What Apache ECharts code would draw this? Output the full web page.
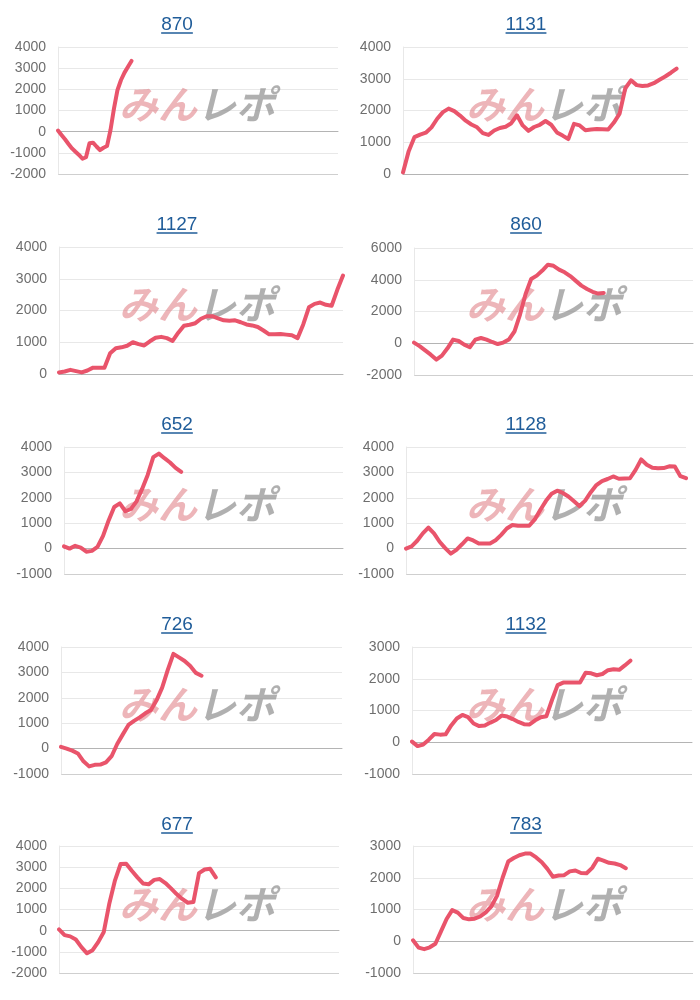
<!DOCTYPE html>
<html><head><meta charset="utf-8">
<script src="https://cdn.jsdelivr.net/npm/echarts@6/dist/echarts.min.js"></script>
<style>html,body{margin:0;padding:0;background:#fff}#c{width:700px;height:1000px}</style>
</head><body><div id="c"></div>
<script>
// ---- data ----
const titles = ['870','1131','1127','860','652','1128','726','1132','677','783'];
const slotCounts = [81, 51, 51, 51, 51, 51, 51, 51, 51, 51];
const yMins = [-2000, 0, 0, -2000, -1000, -1000, -1000, -1000, -2000, -1000];
const yMaxs = [4000, 4000, 4000, 6000, 4000, 4000, 4000, 3000, 4000, 3000];
const yIntervals = [1000, 1000, 1000, 2000, 1000, 1000, 1000, 1000, 1000, 1000];

const v870 = [50,-160,-360,-580,-790,-950,-1100,-1280,-1210,-550,-520,-700,-870,-760,-680,80,1100,1970,2440,2790,3070,3340];
const v1131 = [50,720,1160,1240,1300,1470,1740,1950,2060,1980,1840,1680,1560,1470,1290,1230,1370,1450,1490,1600,1850,1530,1360,1480,1550,1670,1550,1310,1210,1100,1580,1530,1380,1400,1420,1410,1400,1620,1900,2700,2950,2800,2770,2790,2860,2970,3070,3190,3320];
const v1127 = [50,80,130,90,50,110,200,200,200,650,810,840,890,1000,940,900,1030,1140,1170,1130,1040,1300,1520,1550,1600,1740,1820,1820,1750,1690,1680,1690,1630,1560,1530,1480,1370,1250,1250,1260,1240,1220,1130,1560,2100,2210,2250,2180,2150,2650,3100];
const v860 = [40,-180,-450,-720,-1030,-780,-320,230,140,-90,-250,230,330,230,80,-50,40,230,740,1810,3100,4050,4260,4580,4950,4880,4640,4470,4230,3930,3630,3420,3240,3130,3170];
const v652 = [90,0,110,40,-120,-90,70,500,1110,1640,1780,1470,1560,1860,2350,2900,3600,3740,3560,3390,3180,3020];
const v1128 = [0,90,310,600,830,600,270,20,-200,-50,170,400,320,200,200,200,330,540,790,930,900,900,900,1150,1530,1880,2160,2280,2190,2050,1860,1670,1890,2220,2500,2660,2740,2840,2750,2760,2770,3100,3510,3300,3180,3160,3170,3240,3230,2850,2770];
const v726 = [70,0,-80,-190,-500,-700,-640,-630,-540,-300,180,560,930,1090,1230,1390,1520,1900,2400,3100,3730,3590,3450,3250,2980,2870];
const v1132 = [20,-120,-70,80,260,240,250,530,750,860,790,590,510,530,620,700,840,810,730,640,570,560,690,790,820,1330,1800,1880,1880,1880,1880,2190,2170,2110,2150,2270,2300,2280,2420,2570];
const v677 = [60,-210,-270,-420,-780,-1070,-920,-540,-60,1300,2380,3150,3160,2830,2520,2230,2190,2400,2440,2250,2000,1730,1500,1320,1350,2720,2890,2920,2520];
const v783 = [30,-200,-250,-190,-80,310,700,980,900,730,690,710,780,910,1100,1430,2000,2510,2620,2710,2760,2760,2640,2490,2280,2030,2070,2080,2200,2230,2150,2140,2310,2600,2540,2470,2450,2400,2300];

const seriesValues = [v870, v1131, v1127, v860, v652, v1128, v726, v1132, v677, v783];

// ---- layout (pixels) ----
const gridBoxes = [
  {left: 58,  top: 47,  right: 338},
  {left: 403, top: 47,  right: 688},
  {left: 59,  top: 247, right: 343},
  {left: 414, top: 248, right: 693},
  {left: 64,  top: 447, right: 343},
  {left: 406, top: 447, right: 686},
  {left: 61,  top: 647, right: 342},
  {left: 412, top: 647, right: 692},
  {left: 59,  top: 846, right: 339},
  {left: 413, top: 846, right: 693}
];
const GRID_H = 127;
const FONT = '"Liberation Sans", Arial, sans-serif';
const LINE_COLOR = '#e9546b';
const TITLE_COLOR = '#1f5c99';
const TITLE_SIZE = 19;

const chart = echarts.init(document.getElementById('c'), null, {renderer: 'canvas'});

const measure = document.createElement('canvas').getContext('2d');
measure.font = TITLE_SIZE + 'px "Liberation Sans"';

const grid = [], xAxis = [], yAxis = [], series = [], graphic = [];
titles.forEach((t, i) => {
  const col = i % 2, row = Math.floor(i / 2);
  const panelX = col * 350, panelY = row * 200;
  const cx = panelX + (col === 0 ? 177 : 176);
  const g = gridBoxes[i];
  grid.push({left: g.left, top: g.top, width: g.right - g.left, height: GRID_H, containLabel: false});
  const cats = [];
  for (let k = 0; k < slotCounts[i]; k++) cats.push(String(k + 1));
  xAxis.push({
    type: 'category', gridIndex: i, data: cats, boundaryGap: false,
    axisLine: {show: true, onZero: true, lineStyle: {color: '#b4b4b4', width: 1}},
    axisTick: {show: false}, axisLabel: {show: false}, splitLine: {show: false}
  });
  const nTicks = Math.round((yMaxs[i] - yMins[i]) / yIntervals[i]) + 1;
  const splitColors = [];
  for (let k = 0; k < nTicks; k++) splitColors.push(k === 0 ? '#cfcfcf' : '#e8e8e8');
  yAxis.push({
    type: 'value', gridIndex: i, min: yMins[i], max: yMaxs[i], interval: yIntervals[i],
    axisLine: {show: true, lineStyle: {color: '#e8e8e8'}},
    axisTick: {show: false},
    axisLabel: {color: '#6e6e6e', fontSize: 14, fontFamily: FONT, margin: 12, formatter: v => String(v)},
    splitLine: {show: true, lineStyle: {color: splitColors, width: 1}}
  });
  series.push({
    type: 'line', xAxisIndex: i, yAxisIndex: i, data: seriesValues[i],
    showSymbol: false, symbol: 'none', smooth: false, z: 5,
    lineStyle: {color: LINE_COLOR, width: 4, join: 'round', cap: 'round'},
    itemStyle: {color: LINE_COLOR}
  });
  // title text (centered) + underline
  graphic.push({
    type: 'text', silent: true, z: 10,
    x: cx, y: panelY + 25,
    style: {text: t, align: 'center', verticalAlign: 'middle', fill: TITLE_COLOR,
            font: TITLE_SIZE + 'px "Liberation Sans", Arial, sans-serif'}
  });
  const w = measure.measureText(t).width;
  graphic.push({
    type: 'line', silent: true, z: 10,
    shape: {x1: cx - w / 2, y1: panelY + 33, x2: cx + w / 2, y2: panelY + 33},
    style: {stroke: TITLE_COLOR, lineWidth: 1.5}
  });
  // watermark
  graphic.push({
    type: 'text', silent: true, z: 1,
    x: panelX + (col === 0 ? 197 : 194), y: panelY + 104,
    style: {
      text: '{a|みん}{b|レポ}', align: 'center', verticalAlign: 'middle',
      rich: {
        a: {fontSize: 39, fontWeight: 'bold', fontStyle: 'italic', fill: 'rgba(222,120,128,0.55)', fontFamily: '"Noto Sans CJK JP", sans-serif'},
        b: {fontSize: 39, fontWeight: 'bold', fontStyle: 'italic', fill: 'rgba(150,150,150,0.75)', fontFamily: '"Noto Sans CJK JP", sans-serif'}
      }
    }
  });
});

chart.setOption({
  animation: false,
  backgroundColor: '#fff',
  grid, xAxis, yAxis, series, graphic
});
</script>
</body></html>
